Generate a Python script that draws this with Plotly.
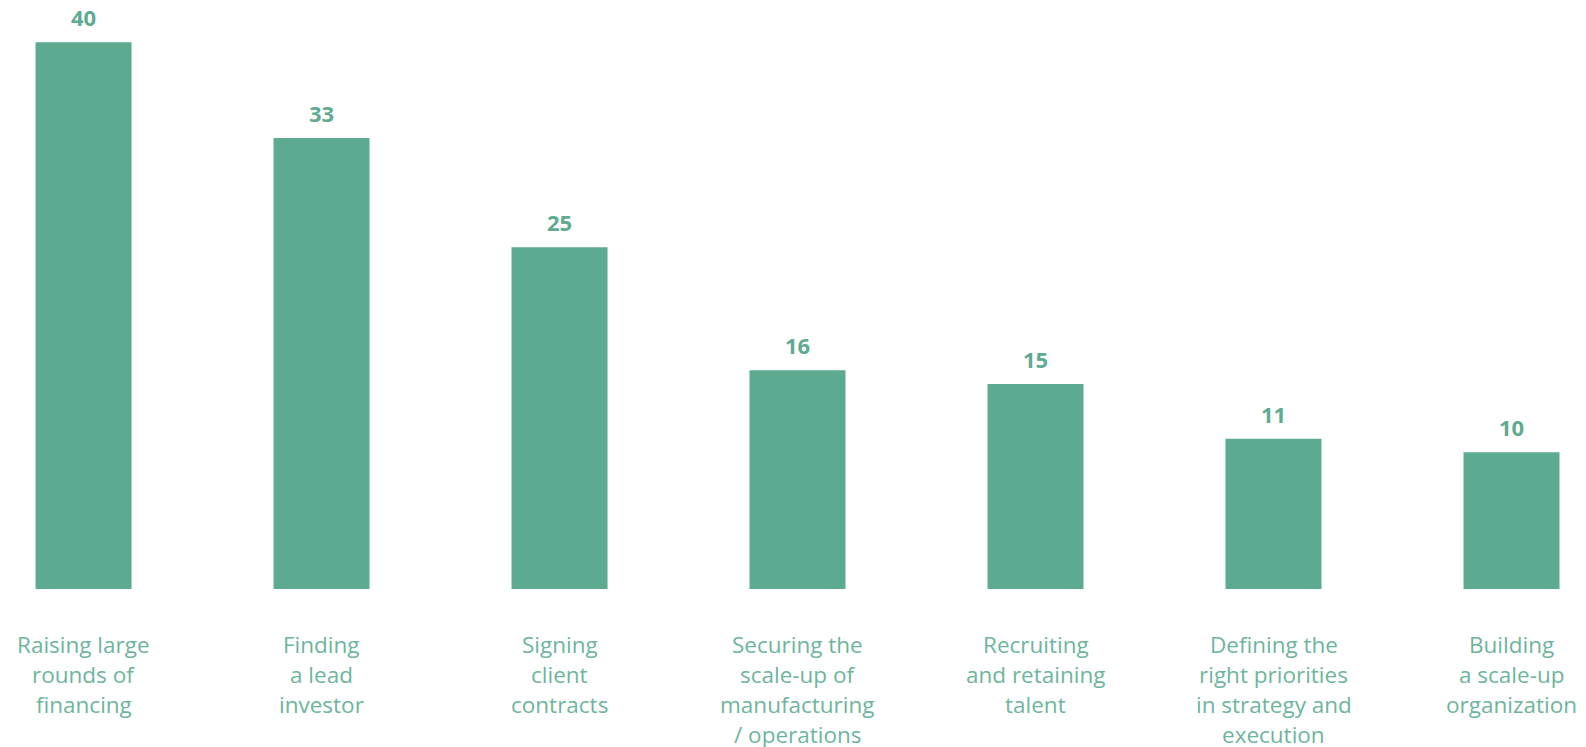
import plotly.graph_objects as go

categories = [
    "Raising large<br>rounds of<br>financing",
    "Finding<br>a lead<br>investor",
    "Signing<br>client<br>contracts",
    "Securing the<br>scale-up of<br>manufacturing<br>/ operations",
    "Recruiting<br>and retaining<br>talent",
    "Defining the<br>right priorities<br>in strategy and<br>execution",
    "Building<br>a scale-up<br>organization",
]
values = [40, 33, 25, 16, 15, 11, 10]

BAR = "#5BAA91"
VAL = "#5FAB91"
CAT = "#6DB59D"
FONT = "'Open Sans', sans-serif"

x = list(range(len(values)))

fig = go.Figure()
fig.add_trace(go.Bar(x=x, y=values, marker=dict(color=BAR, line=dict(width=0)),
                     width=96 / 238, hoverinfo="skip"))

annotations = []
for i, v in enumerate(values):
    annotations.append(dict(x=i, y=v, xref="x", yref="y", text=f"<b>{v}</b>",
                            showarrow=False, yanchor="middle", yshift=25,
                            font=dict(family=FONT, size=22, color=VAL)))
    for j, line in enumerate(categories[i].split("<br>")):
        annotations.append(dict(x=i, y=0, xref="x", yref="y", text=line,
                                showarrow=False, yanchor="middle",
                                yshift=-(55 + 30 * j),
                                font=dict(family=FONT, size=22.5, color=CAT)))

fig.update_layout(
    width=1586, height=747,
    margin=dict(l=0, r=0, t=0, b=158),
    paper_bgcolor="white", plot_bgcolor="white",
    showlegend=False,
    annotations=annotations,
    xaxis=dict(range=[-0.351, 6.313], visible=False, fixedrange=True),
    yaxis=dict(range=[0, 589 / 13.67], visible=False, fixedrange=True),
)

fig.write_html("out.html", config={"displayModeBar": False})
